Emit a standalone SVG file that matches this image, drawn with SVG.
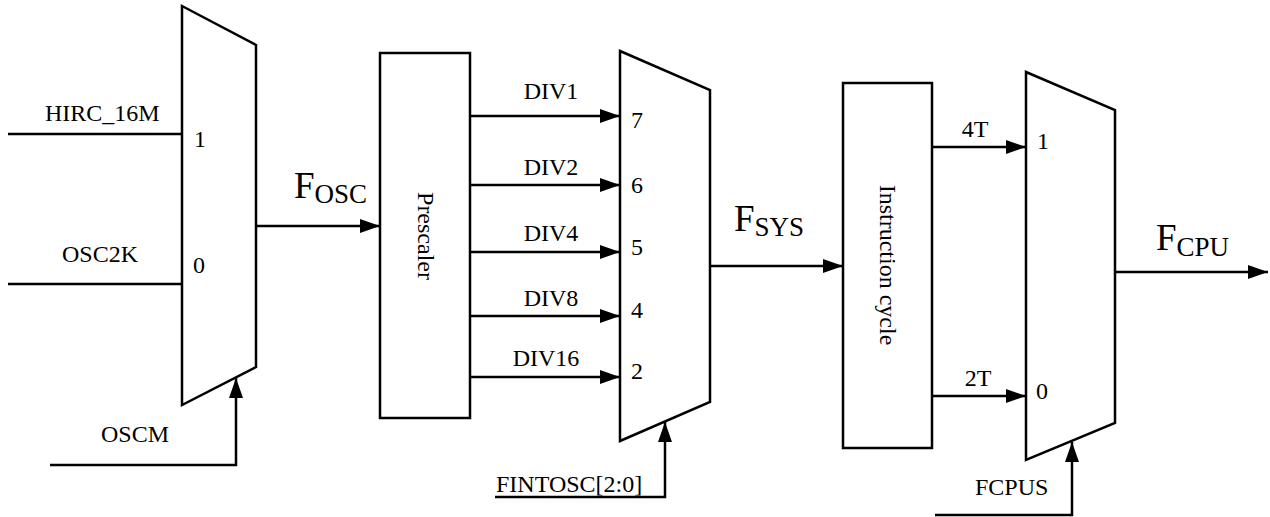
<svg xmlns="http://www.w3.org/2000/svg" width="1270" height="517" viewBox="0 0 1270 517" font-family="'Liberation Serif','Times New Roman',serif">
<style>
.sh{fill:#fff;stroke:#000;stroke-width:2.5;stroke-linejoin:miter}
.ln{fill:none;stroke:#000;stroke-width:2.5}
.ar{marker-end:url(#ah)}
text{font-family:"Liberation Serif","Times New Roman",serif;fill:#000}
.t{font-size:24px}
.big{font-size:37px}
.sub{font-size:27px}
</style>
<defs>
<marker id="ah" markerUnits="userSpaceOnUse" markerWidth="20" markerHeight="14" refX="20" refY="7" orient="auto">
<path d="M0,0 L20,7 L0,14 z" fill="#000"/>
</marker>
</defs>
<rect width="1270" height="517" fill="#fff"/>
<g id="connectors">
<line class="ln" x1="8" y1="134" x2="182" y2="134"/>
<line class="ln" x1="8" y1="284" x2="182" y2="284"/>
<polyline class="ln ar" points="50,465 236,465 236,378"/>
<line class="ln ar" x1="256" y1="226" x2="380" y2="226"/>
<line class="ln ar" x1="470" y1="116" x2="620" y2="116"/>
<line class="ln ar" x1="470" y1="185" x2="620" y2="185"/>
<line class="ln ar" x1="470" y1="252" x2="620" y2="252"/>
<line class="ln ar" x1="470" y1="316" x2="620" y2="316"/>
<line class="ln ar" x1="470" y1="377" x2="620" y2="377"/>
<polyline class="ln ar" points="495,497 665,497 665,422"/>
<line class="ln ar" x1="710" y1="266" x2="843" y2="266"/>
<line class="ln ar" x1="932" y1="147" x2="1026" y2="147"/>
<line class="ln ar" x1="932" y1="396" x2="1026" y2="396"/>
<polyline class="ln ar" points="935,515 1072,515 1072,442"/>
<line class="ln ar" x1="1115" y1="272" x2="1268" y2="272"/>
</g>
<g id="mux1">
<polygon class="sh" points="182,6 256,45 256,367 182,405"/>
<text class="t" x="194" y="147">1</text>
<text class="t" x="193" y="273">0</text>
</g>
<g id="prescaler">
<rect class="sh" x="380" y="53" width="90" height="365"/>
<text class="t" transform="translate(418,236) rotate(90)" text-anchor="middle">Prescaler</text>
</g>
<g id="mux2">
<polygon class="sh" points="620,51 710,90 710,402 620,441"/>
<text class="t" x="631" y="128">7</text>
<text class="t" x="631" y="193">6</text>
<text class="t" x="631" y="255">5</text>
<text class="t" x="631" y="318">4</text>
<text class="t" x="631" y="379">2</text>
</g>
<g id="instruction">
<rect class="sh" x="843" y="83" width="89" height="365"/>
<text class="t" transform="translate(880,265) rotate(90)" text-anchor="middle">Instruction cycle</text>
</g>
<g id="mux3">
<polygon class="sh" points="1026,72 1115,110 1115,423 1026,460"/>
<text class="t" x="1037" y="149">1</text>
<text class="t" x="1036" y="399">0</text>
</g>
<g id="labels">
<text class="t" x="45" y="121">HIRC_16M</text>
<text class="t" x="62" y="262">OSC2K</text>
<text class="t" x="101" y="442">OSCM</text>
<text x="294" y="198"><tspan class="big">F</tspan><tspan class="sub" dy="5">OSC</tspan></text>
<text class="t" x="551" y="99" text-anchor="middle">DIV1</text>
<text class="t" x="551" y="175" text-anchor="middle">DIV2</text>
<text class="t" x="551" y="241" text-anchor="middle">DIV4</text>
<text class="t" x="551" y="306" text-anchor="middle">DIV8</text>
<text class="t" x="546" y="366" text-anchor="middle">DIV16</text>
<text class="t" x="496" y="492">FINTOSC[2:0]</text>
<text x="734" y="231"><tspan class="big">F</tspan><tspan class="sub" dy="5">SYS</tspan></text>
<text class="t" x="975" y="137" text-anchor="middle">4T</text>
<text class="t" x="978" y="386" text-anchor="middle">2T</text>
<text x="1156" y="250"><tspan class="big">F</tspan><tspan class="sub" dy="6">CPU</tspan></text>
<text class="t" x="975" y="495">FCPUS</text>
</g>
</svg>
